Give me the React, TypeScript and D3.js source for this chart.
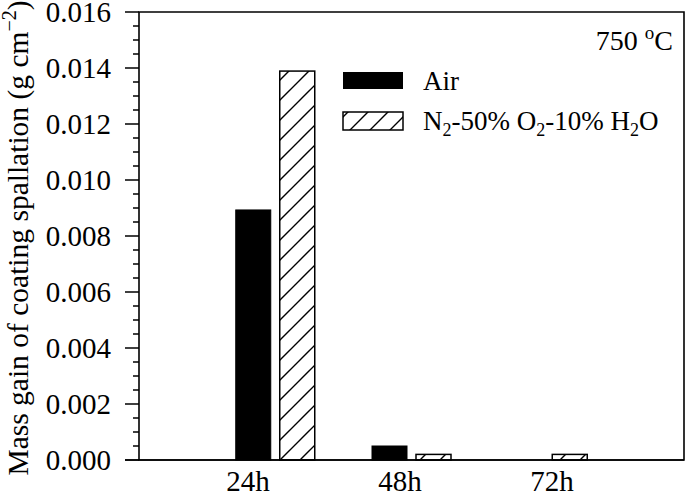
import React from "react";
import * as d3 from "d3";

const categories = ["24h", "48h", "72h"];
const airValues = [0.00893, 0.0005, 0];
const humidValues = [0.01389, 0.0002, 0.0002];
const yTicks = [0, 0.002, 0.004, 0.006, 0.008, 0.01, 0.012, 0.014, 0.016];

const W = 685;
const H = 494;
const left = 139;
const right = 684;
const top = 12;
const bottom = 460;
const FONT = "'Liberation Serif', 'Times New Roman', serif";

export default function App() {
  const y = d3.scaleLinear().domain([0, 0.016]).range([bottom, top]);
  const x = d3.scalePoint<string>().domain(categories).range([left, right]).padding(1);
  const xLabel = d3.scalePoint<string>().domain(categories).range([96, 704]).padding(1);
  const minorTicks = d3.range(0, 0.01601, 0.0005).filter((v) => Math.abs(v / 0.002 - Math.round(v / 0.002)) > 1e-6);
  const barW = 35;
  const gap = 4.5;
  const tx = { fontFamily: FONT };

  return (
    <svg width={W} height={H} style={{ position: "absolute", left: 0, top: 0, background: "#fff", fontFamily: FONT }}>
      <defs>
        <pattern id="hatch" patternUnits="userSpaceOnUse" width={20} height={20}>
          <path d="M0,20 L20,0 M-5,5 L5,-5 M15,25 L25,15" stroke="#000" strokeWidth={1.4} />
        </pattern>
      </defs>
      {categories.map((c, i) => {
        const cx = x(c)!;
        return (
          <g key={c}>
            {airValues[i] > 0 && (
              <rect x={cx - gap - barW} y={y(airValues[i])} width={barW} height={bottom - y(airValues[i])} fill="#000" stroke="#000" strokeWidth={1} />
            )}
            {humidValues[i] > 0 && (
              <rect x={cx + gap} y={y(humidValues[i])} width={barW} height={bottom - y(humidValues[i])} fill="url(#hatch)" stroke="#000" strokeWidth={1.5} />
            )}
          </g>
        );
      })}
      <path d={`M${left},${bottom} L${left},${top} L${right},${top} L${right},${bottom} Z`} fill="none" stroke="#000" strokeWidth={1.6} />
      <line x1={left - 14} x2={right} y1={bottom} y2={bottom} stroke="#000" strokeWidth={1.6} />
      {yTicks.map((t) => (
        <g key={t}>
          <line x1={left - 14} x2={left} y1={y(t)} y2={y(t)} stroke="#000" strokeWidth={1.5} />
          <text x={111} y={y(t)} dy="0.35em" textAnchor="end" fontSize={29} style={tx}>
            {t.toFixed(3)}
          </text>
        </g>
      ))}
      {minorTicks.map((t) => (
        <line key={t} x1={left - 6} x2={left} y1={y(t)} y2={y(t)} stroke="#000" strokeWidth={1.5} />
      ))}
      {categories.map((c) => (
        <text key={c} x={xLabel(c)} y={491} textAnchor="middle" fontSize={29} style={tx}>
          {c}
        </text>
      ))}
      <text transform={`translate(28,238) rotate(-90)`} textAnchor="middle" fontSize={29.5} style={tx}>
        Mass gain of coating spallation (g cm
        <tspan dy="-12" fontSize={20}>−2</tspan>
        <tspan dy="12">)</tspan>
      </text>
      <text x={673} y={50} textAnchor="end" fontSize={28} style={tx}>
        750 <tspan dy="-11" fontSize={19}>o</tspan>
        <tspan dy="11">C</tspan>
      </text>
      <rect x={343} y={72} width={60} height={17} fill="#000" />
      <text x={423} y={90} fontSize={27} style={tx}>Air</text>
      <rect x={343} y={112} width={60} height={18} fill="url(#hatch)" stroke="#000" strokeWidth={1.5} />
      <text x={423} y={130} fontSize={27} style={tx}>
        N<tspan dy="6" fontSize={18}>2</tspan>
        <tspan dy="-6">-50% O</tspan>
        <tspan dy="6" fontSize={18}>2</tspan>
        <tspan dy="-6">-10% H</tspan>
        <tspan dy="6" fontSize={18}>2</tspan>
        <tspan dy="-6">O</tspan>
      </text>
    </svg>
  );
}
